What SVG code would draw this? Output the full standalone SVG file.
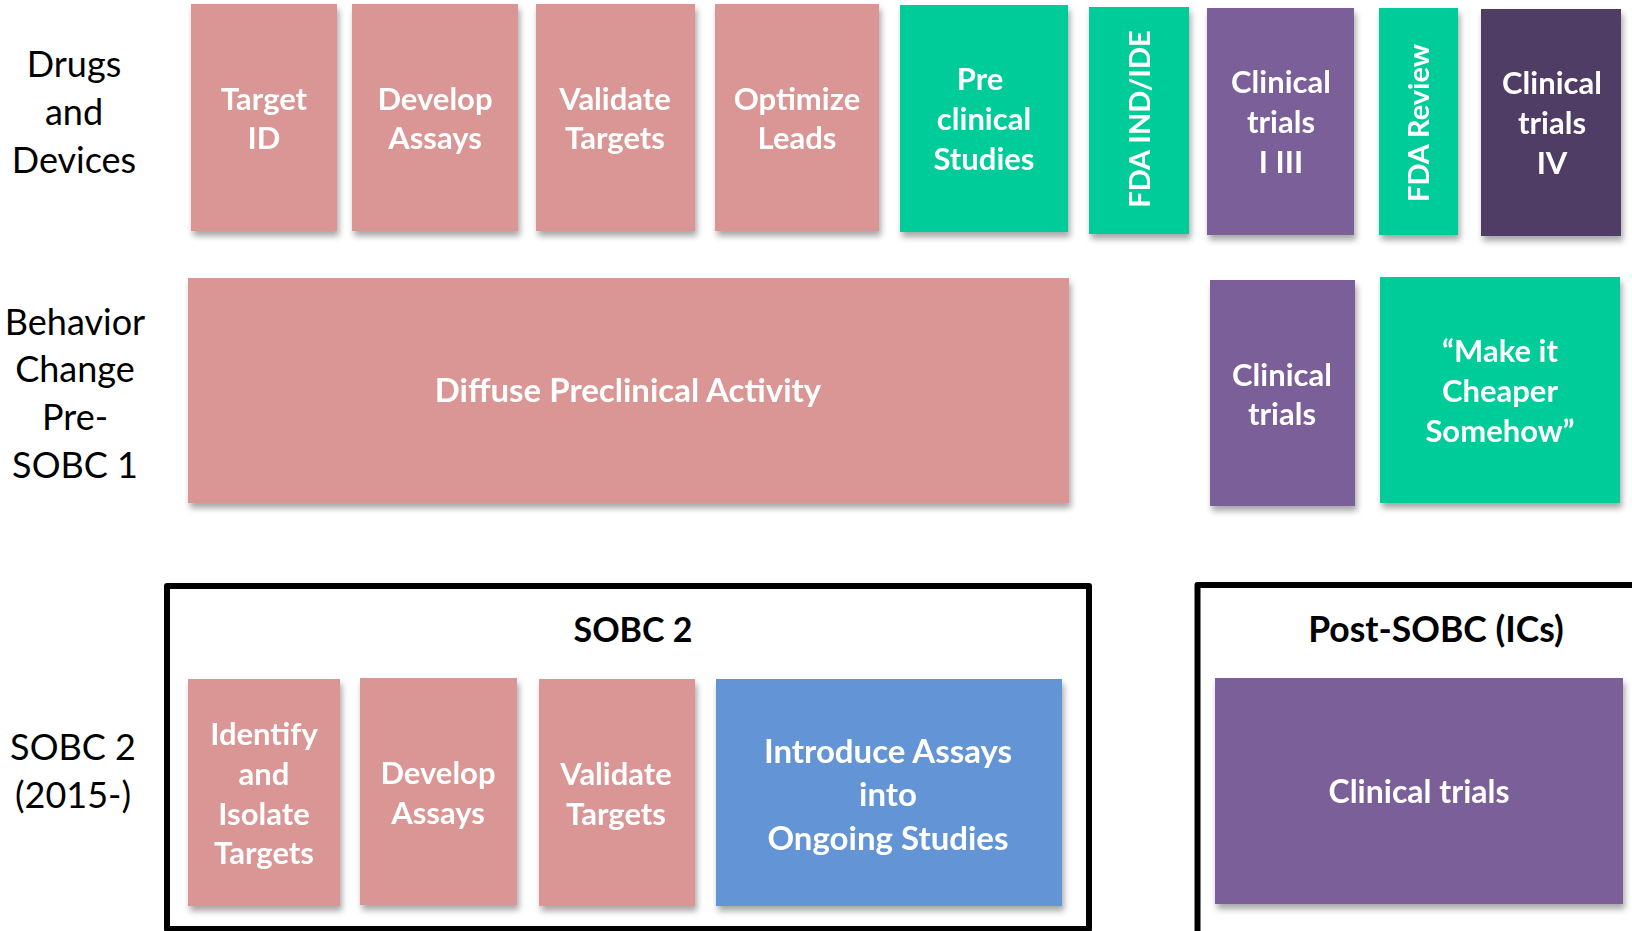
<svg xmlns="http://www.w3.org/2000/svg" width="1632" height="931" viewBox="0 0 1632 931">
<defs>
<filter id="sh" x="-10%" y="-10%" width="125%" height="130%">
<feDropShadow dx="2" dy="5" stdDeviation="3" flood-color="#000" flood-opacity="0.35"/>
</filter>
<style>
.lbl{font-family:Lato,"Open Sans",sans-serif;font-size:36px;fill:#000;text-anchor:middle}
.bt{font-family:Lato,"Open Sans",sans-serif;font-weight:bold;font-size:31px;fill:#fff;text-anchor:middle}
.big{font-size:33px}
.rot{font-size:29px}
.tt{font-family:Lato,"Open Sans",sans-serif;font-weight:bold;font-size:34px;fill:#000;text-anchor:middle}
.pink{fill:#D99694}
.green{fill:#00CC99}
.purple{fill:#7A5E99}
.dpurple{fill:#4F3C66}
.blue{fill:#6395D6}
.frame{fill:none;stroke:#000;stroke-width:6;stroke-linejoin:round}
</style>
</defs>
<rect width="1632" height="931" fill="#fff"/>

<g id="row-labels">
<text class="lbl" x="74" y="77">Drugs</text>
<text class="lbl" x="74" y="125">and</text>
<text class="lbl" x="74" y="173">Devices</text>
<text class="lbl" x="75" y="335">Behavior</text>
<text class="lbl" x="75" y="382">Change</text>
<text class="lbl" x="75" y="430">Pre-</text>
<text class="lbl" x="75" y="478">SOBC 1</text>
<text class="lbl" x="73" y="760">SOBC 2</text>
<text class="lbl" x="73" y="808">(2015-)</text>
</g>

<g id="frames">
<g id="sobc2-frame">
<rect class="frame" x="167" y="586" width="922" height="343"/>
<text class="tt" x="633" y="642">SOBC 2</text>
</g>
<g id="post-sobc-frame">
<rect class="frame" x="1197.5" y="585" width="460" height="360"/>
<text class="tt" x="1436" y="642" style="font-size:35.5px">Post-SOBC (ICs)</text>
</g>
</g>

<g id="connectors"></g>

<g id="target-id" filter="url(#sh)">
<rect class="pink" x="191" y="4" width="146" height="227"/>
<text class="bt" x="264" y="110">Target</text>
<text class="bt" x="264" y="149">ID</text>
</g>
<g id="develop-assays-1" filter="url(#sh)">
<rect class="pink" x="352" y="4" width="166" height="227"/>
<text class="bt" x="435" y="110">Develop</text>
<text class="bt" x="435" y="149">Assays</text>
</g>
<g id="validate-targets-1" filter="url(#sh)">
<rect class="pink" x="536" y="4" width="159" height="227"/>
<text class="bt" x="615" y="110">Validate</text>
<text class="bt" x="615" y="149">Targets</text>
</g>
<g id="optimize-leads" filter="url(#sh)">
<rect class="pink" x="715" y="4" width="164" height="227"/>
<text class="bt" x="797" y="110">Optimize</text>
<text class="bt" x="797" y="149">Leads</text>
</g>
<g id="preclinical-studies" filter="url(#sh)">
<rect class="green" x="900" y="5" width="168" height="227"/>
<text class="bt" x="980" y="90">Pre</text>
<text class="bt" x="984" y="130">clinical</text>
<text class="bt" x="984" y="170">Studies</text>
</g>
<g id="fda-ind-ide" filter="url(#sh)">
<rect class="green" x="1089" y="7" width="100" height="227"/>
<text class="bt rot" transform="translate(1150 119) rotate(-90)" x="0" y="0">FDA IND/IDE</text>
</g>
<g id="clinical-trials-1-3" filter="url(#sh)">
<rect class="purple" x="1207" y="8" width="147" height="227"/>
<text class="bt" x="1281" y="93">Clinical</text>
<text class="bt" x="1281" y="133">trials</text>
<text class="bt" x="1281" y="173">I III</text>
</g>
<g id="fda-review" filter="url(#sh)">
<rect class="green" x="1379" y="8" width="79" height="227"/>
<text class="bt rot" transform="translate(1429 123) rotate(-90)" x="0" y="0">FDA Review</text>
</g>
<g id="clinical-trials-4" filter="url(#sh)">
<rect class="dpurple" x="1481" y="9" width="140" height="227"/>
<text class="bt" x="1552" y="94">Clinical</text>
<text class="bt" x="1552" y="134">trials</text>
<text class="bt" x="1552" y="174">IV</text>
</g>

<g id="diffuse-preclinical" filter="url(#sh)">
<rect class="pink" x="188" y="278" width="881" height="225"/>
<text class="bt big" x="628" y="402">Diffuse Preclinical Activity</text>
</g>
<g id="clinical-trials-bc" filter="url(#sh)">
<rect class="purple" x="1210" y="280" width="145" height="226"/>
<text class="bt" x="1282" y="386">Clinical</text>
<text class="bt" x="1282" y="425">trials</text>
</g>
<g id="make-it-cheaper" filter="url(#sh)">
<rect class="green" x="1380" y="277" width="240" height="226"/>
<text class="bt" x="1500" y="362">“Make it</text>
<text class="bt" x="1500" y="402">Cheaper</text>
<text class="bt" x="1500" y="442">Somehow”</text>
</g>

<g id="identify-isolate" filter="url(#sh)">
<rect class="pink" x="188" y="679" width="152" height="227"/>
<text class="bt" x="264" y="745">Identify</text>
<text class="bt" x="264" y="785">and</text>
<text class="bt" x="264" y="825">Isolate</text>
<text class="bt" x="264" y="864">Targets</text>
</g>
<g id="develop-assays-2" filter="url(#sh)">
<rect class="pink" x="360" y="678" width="157" height="227"/>
<text class="bt" x="438" y="784">Develop</text>
<text class="bt" x="438" y="824">Assays</text>
</g>
<g id="validate-targets-2" filter="url(#sh)">
<rect class="pink" x="539" y="679" width="156" height="227"/>
<text class="bt" x="616" y="785">Validate</text>
<text class="bt" x="616" y="825">Targets</text>
</g>
<g id="introduce-assays" filter="url(#sh)">
<rect class="blue" x="716" y="679" width="346" height="227"/>
<text class="bt big" x="888" y="763">Introduce Assays</text>
<text class="bt big" x="888" y="806">into</text>
<text class="bt big" x="888" y="850">Ongoing Studies</text>
</g>
<g id="clinical-trials-post" filter="url(#sh)">
<rect class="purple" x="1215" y="678" width="408" height="226"/>
<text class="bt" x="1419" y="803" style="font-size:32px">Clinical trials</text>
</g>
</svg>
